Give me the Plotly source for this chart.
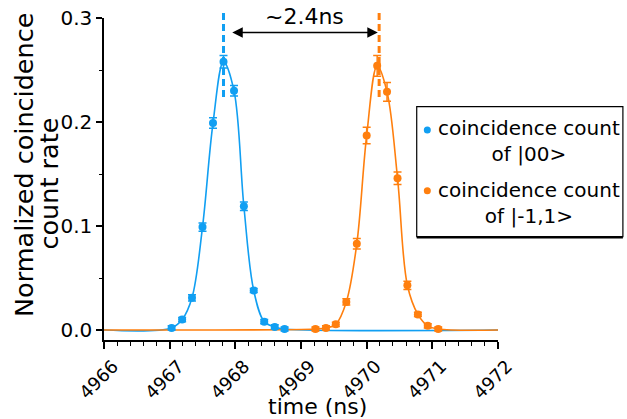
import plotly.graph_objects as go

# ---------------- data ----------------
blue_x = [4967.03, 4967.19, 4967.34, 4967.50, 4967.66, 4967.82, 4967.98,
          4968.13, 4968.28, 4968.44, 4968.60, 4968.75]
blue_y = [0.002, 0.010, 0.031, 0.099, 0.199, 0.258, 0.230,
          0.119, 0.038, 0.008, 0.003, 0.001]
blue_err = [0.002, 0.002, 0.003, 0.004, 0.005, 0.006, 0.005,
            0.004, 0.002, 0.002, 0.002, 0.002]

orange_x = [4969.22, 4969.38, 4969.53, 4969.69, 4969.85, 4970.00, 4970.16,
            4970.31, 4970.47, 4970.62, 4970.78, 4970.93, 4971.09]
orange_y = [0.001, 0.002, 0.0055, 0.027, 0.083, 0.187, 0.254,
            0.229, 0.146, 0.043, 0.015, 0.004, 0.001]
orange_err = [0.002, 0.002, 0.002, 0.003, 0.005, 0.008, 0.010,
              0.009, 0.006, 0.004, 0.002, 0.002, 0.002]

x_range = [4966, 4972]
x_ticks = [4966, 4967, 4968, 4969, 4970, 4971, 4972]
y_ticks = [0.0, 0.1, 0.2, 0.3]
y_ticktext = ["0.0", "0.1", "0.2", "0.3"]

blue_peak = 4967.82
orange_peak = 4970.19
arrow_left = 4967.93
arrow_right = 4970.17
arrow_y = 0.286
gap_label = "~2.4ns"

x_title = "time (ns)"
y_title_lines = ["Normalized coincidence", "count rate"]
legend_labels = ["coincidence count<br>of |00&gt;", "coincidence count<br>of |-1,1&gt;"]

BLUE = "#119FF2"
ORANGE = "#FF7F0E"
FONT = "DejaVu Sans"

fig = go.Figure()

# fit curves (smooth line through the measured points, flat baseline outside)
fig.add_trace(go.Scatter(
    x=[x_range[0]] + blue_x + [x_range[1]],
    y=[0] + blue_y + [0],
    mode="lines", line=dict(color=BLUE, width=1.6, shape="spline", smoothing=1.0),
    showlegend=False, hoverinfo="skip"))
fig.add_trace(go.Scatter(
    x=[x_range[0]] + orange_x + [x_range[1]],
    y=[0] + orange_y + [0],
    mode="lines", line=dict(color=ORANGE, width=1.6, shape="spline", smoothing=1.0),
    showlegend=False, hoverinfo="skip"))

# data points with error bars
fig.add_trace(go.Scatter(
    x=blue_x, y=blue_y, mode="markers",
    marker=dict(color=BLUE, size=8),
    error_y=dict(type="data", array=blue_err, color=BLUE, thickness=1.5, width=4),
    showlegend=False))
fig.add_trace(go.Scatter(
    x=orange_x, y=orange_y, mode="markers",
    marker=dict(color=ORANGE, size=8),
    error_y=dict(type="data", array=orange_err, color=ORANGE, thickness=1.5, width=4),
    showlegend=False))

# dashed peak markers
for xp, col in [(blue_peak, BLUE), (orange_peak, ORANGE)]:
    fig.add_shape(type="line", xref="x", yref="paper",
                  x0=xp, x1=xp, y0=0.755, y1=1.016,
                  line=dict(color=col, width=3, dash="7px,4px"))

# double-headed arrow
fig.add_annotation(x=arrow_right, y=arrow_y, ax=arrow_left, ay=arrow_y,
                   xref="x", yref="y", axref="x", ayref="y",
                   text="", showarrow=True, arrowhead=2, startarrowhead=2,
                   arrowside="end+start", arrowsize=1.4, startarrowsize=1.4,
                   arrowwidth=1.5, arrowcolor="black")
fig.add_annotation(x=(arrow_left + arrow_right) / 2, y=1.004, xref="x", yref="paper",
                   text=gap_label, showarrow=False, xanchor="center", yanchor="middle",
                   font=dict(family=FONT, size=22, color="black"))

# axis titles
fig.add_annotation(x=0.542, y=-0.207, xref="paper", yref="paper",
                   text=x_title, showarrow=False, xanchor="center", yanchor="middle",
                   font=dict(family=FONT, size=22, color="black"))
for line, xp, yp in [(y_title_lines[0], -0.2030, 0.5435),
                     (y_title_lines[1], -0.1396, 0.486)]:
    fig.add_annotation(x=xp, y=yp, xref="paper", yref="paper",
                       text=line, showarrow=False, textangle=-90,
                       xanchor="center", yanchor="middle",
                       font=dict(family=FONT, size=25.5, color="black"))

# custom legend box
fig.add_shape(type="rect", xref="paper", yref="paper",
              x0=0.7937, x1=1.317, y0=0.3208, y1=0.7245,
              line=dict(color="black", width=1.2), fillcolor="white")
fig.add_shape(type="line", xref="paper", yref="paper",
              x0=0.7937, x1=1.317, y0=0.3178, y1=0.3178,
              line=dict(color="black", width=1.5))
for lab, col, yc, ydot in [(legend_labels[0], BLUE, 0.6165, 0.6522),
                           (legend_labels[1], ORANGE, 0.4245, 0.4637)]:
    fig.add_annotation(x=1.078, y=yc, xref="paper", yref="paper",
                       text=lab, showarrow=False, align="center",
                       xanchor="center", yanchor="middle",
                       font=dict(family=FONT, size=20, color="black"))
    fig.add_shape(type="circle", xref="paper", yref="paper",
                  x0=0.8206 - 0.0089, x1=0.8206 + 0.0089,
                  y0=ydot - 0.0109, y1=ydot + 0.0109,
                  line=dict(color=col, width=0), fillcolor=col)

fig.update_layout(
    width=627, height=419,
    margin=dict(l=104, r=129, t=18, b=79, autoexpand=False),
    paper_bgcolor="white", plot_bgcolor="white",
    font=dict(family=FONT, size=20, color="black"),
    showlegend=False,
)
fig.update_xaxes(
    range=x_range, tickvals=x_ticks, tickangle=-45, automargin=False,
    ticklabeloverflow="allow", ticklabelshift=9,
    showline=True, linecolor="black", linewidth=1.5,
    ticks="outside", ticklen=7, tickwidth=1.5, tickcolor="black",
    minor=dict(dtick=0.2, ticks="outside", ticklen=4, tickwidth=1.2, tickcolor="black"),
    showgrid=False, zeroline=False,
    tickfont=dict(size=18),
)
fig.update_yaxes(
    range=[-0.0096, 0.3], tickvals=y_ticks, ticktext=y_ticktext, automargin=False,
    ticklabeloverflow="allow",
    showline=True, linecolor="black", linewidth=1.5,
    ticks="outside", ticklen=6, tickwidth=1.5, tickcolor="black",
    minor=dict(dtick=0.05, ticks="outside", ticklen=3, tickwidth=1.2, tickcolor="black"),
    showgrid=False, zeroline=False,
    tickfont=dict(size=20),
)

# remove the page's default body margin so the figure fills the window exactly
fig.write_html(
    "out.html",
    config={"displayModeBar": False},
    post_script="document.body.style.margin='0px';document.body.style.overflow='hidden';",
)
